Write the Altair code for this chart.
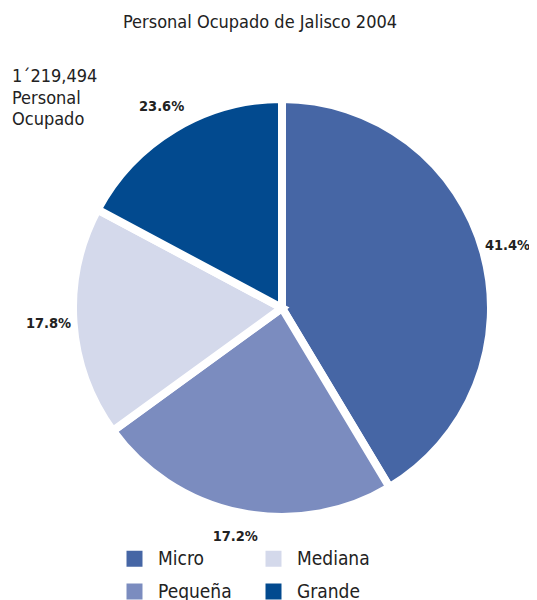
import altair as alt
import pandas as pd

categories = ["Micro", "Pequeña", "Mediana", "Grande"]
shares = [41.4, 23.6, 17.8, 17.2]                 # slice sizes as drawn
labels = ["41.4%", "17.2%", "17.8%", "23.6%"]     # labels as printed on the chart
colors = ["#4666a5", "#7b8cbf", "#d4d9eb", "#024a8f"]
title_text = "Personal Ocupado de Jalisco 2004"
note_lines = ["1´219,494", "Personal", "Ocupado"]

df = pd.DataFrame({"cat": categories, "share": shares, "label": labels,
                   "idx": list(range(len(categories)))})

FONT = "DejaVu Sans Condensed, Liberation Sans Narrow, Liberation Sans, sans-serif"
CX, CY = 274, 300

base = alt.Chart(df).encode(
    theta=alt.Theta("share:Q", stack=True),
    order=alt.Order("idx:Q"),
)

pie = base.mark_arc(radius=209, stroke="white", strokeWidth=8).encode(
    color=alt.Color(
        "cat:N",
        scale=alt.Scale(domain=categories, range=colors),
        legend=alt.Legend(
            title=None, orient="none", legendX=117, legendY=541, columns=2,
            symbolType="square", symbolSize=256, symbolStrokeWidth=0,
            labelFont=FONT, labelFontSize=19, labelColor="#222222",
            labelOffset=14, columnPadding=32, rowPadding=13,
        ),
    ),
    x=alt.value(CX), y=alt.value(CY),
)

txt = base.mark_text(radius=234, font=FONT, fontSize=14.5, fontWeight="bold",
                     color="#222222").encode(
    text="label:N", detail="cat:N", x=alt.value(CX), y=alt.value(CY))

title = alt.Chart(pd.DataFrame({"t": [title_text]})).mark_text(
    font=FONT, fontSize=18, color="#222222", align="center", baseline="alphabetic"
).encode(text="t:N", x=alt.value(252), y=alt.value(20))

note = alt.Chart(pd.DataFrame({"t": ["\n".join(note_lines)]})).mark_text(
    font=FONT, fontSize=18, color="#222222", align="left", baseline="alphabetic",
    lineBreak="\n", lineHeight=21.5
).encode(text="t:N", x=alt.value(4), y=alt.value(74))

chart = alt.layer(pie, txt, title, note).properties(
    width=521, height=592, padding=0,
    autosize=alt.AutoSizeParams(type="fit", contains="padding"),
).configure_view(stroke=None)

chart.save("out.html", embed_options={"renderer": "svg", "actions": False})
